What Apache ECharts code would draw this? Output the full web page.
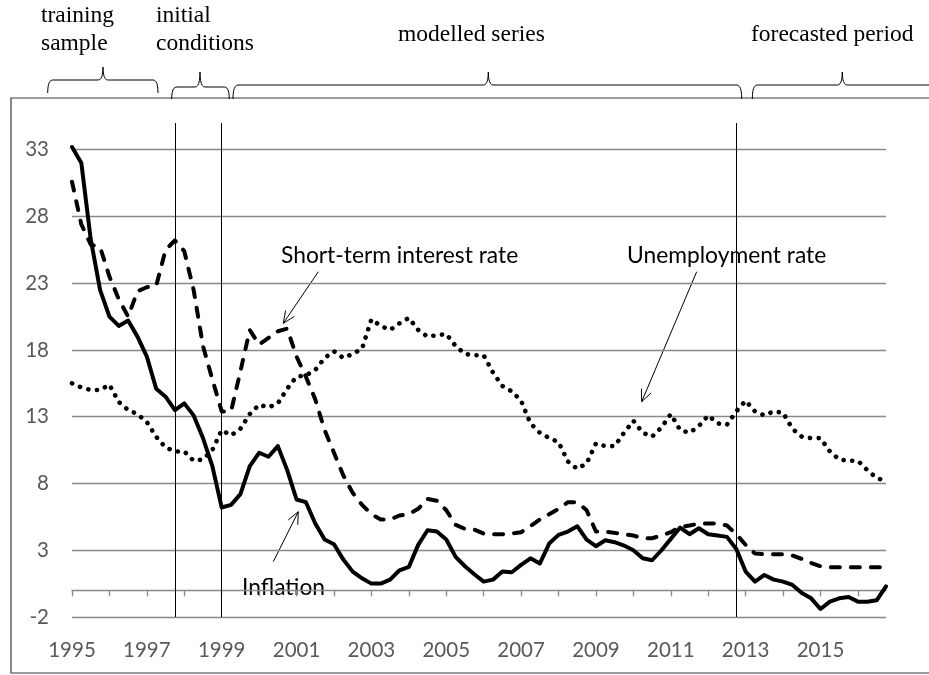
<!DOCTYPE html>
<html><head><meta charset="utf-8">
<script src="https://cdn.jsdelivr.net/npm/echarts@6/dist/echarts.min.js"></script>
<style>html,body{margin:0;padding:0;background:#fff}#chart{width:929px;height:675px}</style>
</head><body><div id="chart"></div>
<script>
// ---- data ----
const years = [1995,1996,1997,1998,1999,2000,2001,2002,2003,2004,2005,2006,2007,2008,2009,2010,2011,2012,2013,2014,2015,2016];
const quarters = [];
years.forEach(function (y) { ['Q1','Q2','Q3','Q4'].forEach(function (q) { quarters.push(y + q); }); });

const inflation = [
  33.2, 32.0, 26.3, 22.5, 20.5, 19.8, 20.2, 19.0, 17.5, 15.1, 14.5, 13.5,
  14.0, 13.1, 11.4, 9.3, 6.2, 6.4, 7.2, 9.3, 10.3, 10.0, 10.8, 9.0,
  6.8, 6.6, 5.0, 3.8, 3.45, 2.3, 1.4, 0.9, 0.5, 0.5, 0.8, 1.5,
  1.75, 3.4, 4.5, 4.4, 3.8, 2.5, 1.8, 1.2, 0.65, 0.8, 1.4, 1.35,
  1.9, 2.4, 2.0, 3.5, 4.15, 4.4, 4.8, 3.8, 3.3, 3.75, 3.6, 3.35,
  3.0, 2.4, 2.25, 3.0, 3.85, 4.7, 4.2, 4.65, 4.2, 4.1, 4.0, 3.1,
  1.4, 0.65, 1.15, 0.8, 0.65, 0.4, -0.2, -0.6, -1.4, -0.85, -0.6, -0.5,
  -0.85, -0.85, -0.75, 0.3
];
const shortRate = [
  30.6, 27.4, 25.9, 25.7, 23.5, 21.8, 20.5, 22.4, 22.7, 22.8, 25.5, 26.2,
  25.4, 22.5, 18.3, 15.8, 13.4, 13.4, 16.4, 19.5, 18.4, 18.9, 19.4, 19.6,
  17.5, 16.0, 14.3, 12.0, 10.3, 8.6, 7.3, 6.4, 5.7, 5.3, 5.3, 5.6,
  5.7, 6.1, 6.85, 6.7, 6.0, 4.9, 4.6, 4.55, 4.25, 4.2, 4.2, 4.25,
  4.35, 4.8, 5.3, 5.7, 6.1, 6.6, 6.6, 6.0, 4.4, 4.4, 4.3, 4.2,
  4.1, 3.9, 3.9, 4.1, 4.35, 4.75, 4.85, 5.0, 5.0, 5.0, 4.85, 4.2,
  3.4, 2.75, 2.7, 2.7, 2.7, 2.6, 2.35, 2.05, 1.8, 1.72, 1.72, 1.72,
  1.72, 1.72, 1.72, 1.72
];
const unemployment = [
  15.5, 15.2, 15.0, 15.0, 15.4, 14.1, 13.5, 13.2, 12.6, 11.5, 10.7, 10.4,
  10.4, 9.7, 9.8, 10.5, 12.0, 11.6, 12.1, 13.2, 13.9, 13.7, 14.0, 15.1,
  16.0, 16.1, 16.5, 17.4, 17.9, 17.4, 17.7, 18.1, 20.3, 19.8, 19.5, 20.0,
  20.4, 19.5, 19.0, 19.1, 19.2, 18.3, 17.7, 17.6, 17.6, 16.3, 15.3, 14.9,
  14.2, 12.5, 11.8, 11.4, 11.1, 9.65, 9.1, 9.5, 11.0, 10.8, 10.8, 11.8,
  12.7, 11.8, 11.5, 12.2, 13.2, 12.0, 11.8, 12.3, 13.1, 12.5, 12.4, 13.4,
  14.2, 13.4, 13.1, 13.4, 13.3, 12.1, 11.5, 11.4, 11.4, 10.4, 9.8, 9.7,
  9.7, 9.0, 8.4, 8.2
];
const yTicks = [-2, 3, 8, 13, 18, 23, 28, 33];
const periodBreaks = ['1997Q4', '1999Q1', '2012Q4'];

// ---- chart ----
const chart = echarts.init(document.getElementById('chart'), null, {renderer: 'canvas'});
const AX = '#898989';
const LBL = '#595959';
const SANS = 'Lato';
const SERIF = '"Liberation Serif", "Times New Roman", serif';

function quad(p0, p1, p2, out) {
  for (let k = 1; k <= 6; k++) {
    const t = k / 6, u = 1 - t;
    out.push([u * u * p0[0] + 2 * u * t * p1[0] + t * t * p2[0], u * u * p0[1] + 2 * u * t * p1[1] + t * t * p2[1]]);
  }
}
function brace(x1, x2, xm, yTip, yMid, yEnd) {
  const r = 5, pts = [[x1, yEnd]];
  quad([x1, yEnd], [x1, yMid], [x1 + r, yMid], pts);
  pts.push([xm - r, yMid]);
  quad([xm - r, yMid], [xm, yMid], [xm, yTip], pts);
  quad([xm, yTip], [xm, yMid], [xm + r, yMid], pts);
  pts.push([x2 - r, yMid]);
  quad([x2 - r, yMid], [x2, yMid], [x2, yEnd], pts);
  return {type: 'polyline', shape: {points: pts}, style: {stroke: '#000', lineWidth: 1, fill: null}};
}
function arrow(x1, y1, x2, y2) {
  const a = Math.atan2(y2 - y1, x2 - x1), L = 13, s = 0.42;
  return [
    {type: 'line', shape: {x1: x1, y1: y1, x2: x2, y2: y2}, style: {stroke: '#000', lineWidth: 1}},
    {type: 'polyline', shape: {points: [
      [x2 - L * Math.cos(a - s), y2 - L * Math.sin(a - s)], [x2, y2],
      [x2 - L * Math.cos(a + s), y2 - L * Math.sin(a + s)]]},
      style: {stroke: '#000', lineWidth: 1, fill: null}}
  ];
}
function txt(x, y, t, font, size) {
  return {type: 'text', x: x, y: y, style: {text: t, fontFamily: font, fontSize: size, fill: '#000', align: 'left', verticalAlign: 'middle'}};
}

const graphics = [
  {type: 'rect', shape: {x: 11, y: 98, width: 960, height: 575}, style: {fill: null, stroke: '#3a3a3a', lineWidth: 1.2}, z: 0},
  brace(47.7, 158, 103, 67, 80, 93),
  brace(171.7, 229.3, 200, 72, 87, 99),
  brace(233, 741.7, 488.3, 72, 85, 99),
  brace(752.3, 960, 842.3, 72, 85, 99),
  txt(41, 16, 'training', SERIF, 23.5),
  txt(41, 44, 'sample', SERIF, 23.5),
  txt(156, 16, 'initial', SERIF, 23.5),
  txt(156, 44, 'conditions', SERIF, 23.5),
  txt(398, 35, 'modelled series', SERIF, 23.5),
  txt(751, 35, 'forecasted period', SERIF, 23.5),
  txt(281, 256, 'Short-term interest rate', SANS, 22.8),
  txt(627, 256, 'Unemployment rate', SANS, 22.8),
  txt(242, 588, 'Inflation', SANS, 22.8)
].concat(arrow(318.3, 271.7, 283.3, 323.3))
 .concat(arrow(696.7, 271.7, 641.7, 401.7))
 .concat(arrow(273.3, 561.7, 298.3, 511.7));

chart.setOption({
  animation: false,
  backgroundColor: '#fff',
  grid: {left: 72, top: 123, width: 814, height: 494, containLabel: false, outerBoundsMode: 'none'},
  xAxis: {
    type: 'category', data: quarters, boundaryGap: false,
    axisLine: {show: true, lineStyle: {color: AX, width: 1.3}},
    axisTick: {show: true, interval: function (i) { return i % 4 === 0; }, length: 6, inside: false, lineStyle: {color: AX, width: 1.3}},
    axisLabel: {interval: function (i) { return i % 8 === 0; }, formatter: function (v) { return v.slice(0, 4); },
      color: LBL, fontFamily: SANS, fontSize: 20.5, margin: 23},
    splitLine: {show: false}
  },
  yAxis: {
    type: 'value', min: -2, max: 35,
    axisLine: {show: false},
    axisTick: {show: false, customValues: yTicks},
    axisLabel: {customValues: yTicks, color: LBL, fontFamily: SANS, fontSize: 20.5, margin: 23},
    splitLine: {show: true, lineStyle: {color: AX, width: 1.3}}
  },
  graphic: graphics,
  series: [
    {name: 'Unemployment rate', type: 'line', data: unemployment, symbol: 'none', smooth: false,
      lineStyle: {color: '#000', width: 4.6, type: [0.1, 8.6], cap: 'round', join: 'round'}, z: 3},
    {name: 'Short-term interest rate', type: 'line', data: shortRate, symbol: 'none', smooth: false,
      lineStyle: {color: '#000', width: 4, type: [9, 11], cap: 'round', join: 'round'}, z: 3},
    {name: 'Inflation', type: 'line', data: inflation, symbol: 'none', smooth: false,
      lineStyle: {color: '#000', width: 4, join: 'round', cap: 'round'}, z: 4,
      markLine: {silent: true, symbol: 'none', animation: false,
        label: {show: false},
        lineStyle: {color: '#000', width: 1, type: 'solid'},
        data: periodBreaks.map(function (c) { return {xAxis: c}; })}}
  ]
});
</script>
</body></html>
